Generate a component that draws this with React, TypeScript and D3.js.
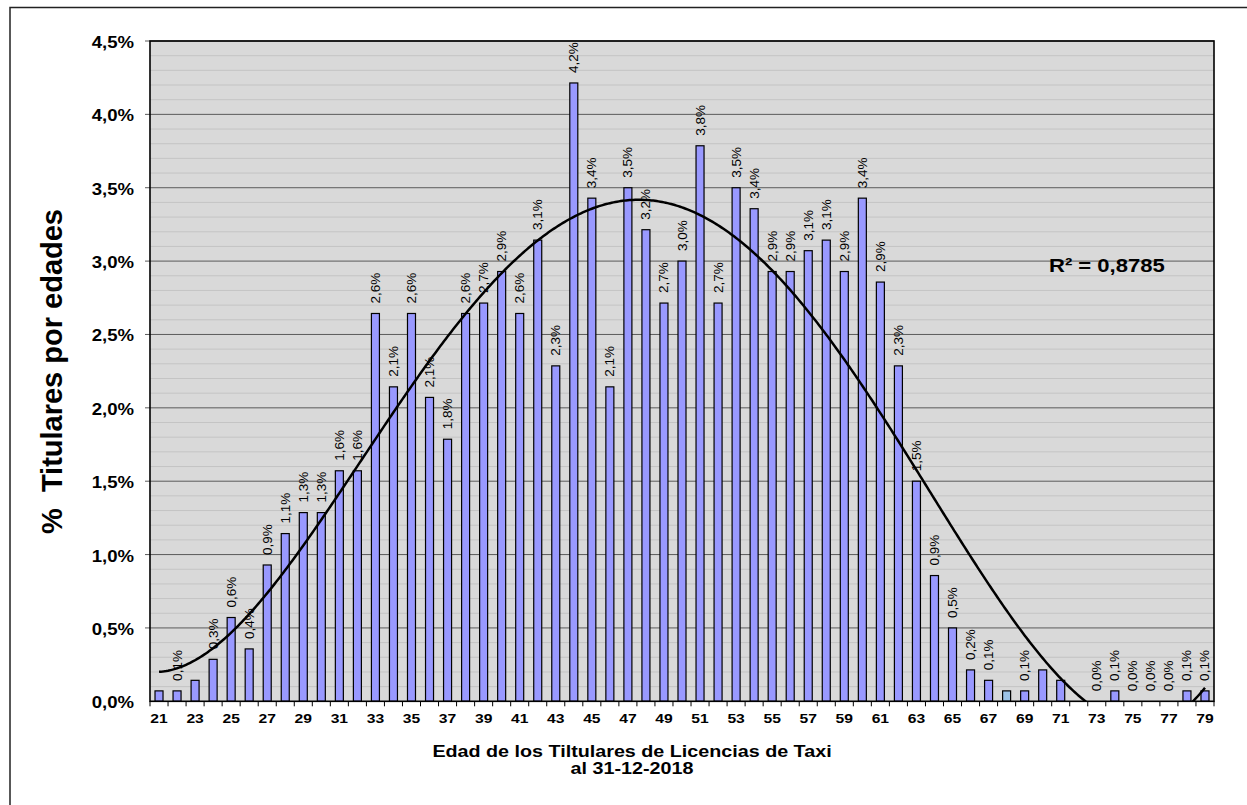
import { useEffect, useRef } from "react";
import * as d3 from "d3";

// Edad de los titulares (21..79) y % de titulares por edad
const ages = d3.range(21, 80);
const pct = [
  0.071, 0.071, 0.143, 0.286, 0.571, 0.357, 0.929, 1.143, 1.286, 1.286,
  1.571, 1.571, 2.643, 2.143, 2.643, 2.071, 1.786, 2.643, 2.714, 2.929,
  2.643, 3.143, 2.286, 4.214, 3.429, 2.143, 3.5, 3.214, 2.714, 3.0,
  3.786, 2.714, 3.5, 3.357, 2.929, 2.929, 3.071, 3.143, 2.929, 3.429,
  2.857, 2.286, 1.5, 0.857, 0.5, 0.214, 0.143, 0.071, 0.071, 0.214,
  0.143, 0, 0, 0.071, 0, 0, 0, 0.071, 0.071,
];
// bars without a data label in the original
const unlabeled = [21, 23, 68, 70, 71, 72];
// one bar drawn in a lighter tint
const tinted = [68];
const yTicks = d3.range(0, 4.51, 0.5);
const xTickAges = ages.filter((a) => a % 2 === 1);
const r2Label = "R² = 0,8785";
const yTitle = "%  Titulares por edades";
const xTitle = ["Edad de los Tiltulares de Licencias de Taxi", "al 31-12-2018"];

const FONT = "'Liberation Sans', Arial, Helvetica, sans-serif";
const STRETCH = 1.16;

// least squares polynomial (Excel-style trendline)
function polyFit(xs: number[], ys: number[], deg: number) {
  const n = deg + 1;
  const A = Array.from({ length: n }, () => new Array(n + 1).fill(0));
  xs.forEach((x, i) => {
    for (let j = 0; j < n; j++) {
      for (let k = 0; k < n; k++) A[j][k] += Math.pow(x, j + k);
      A[j][n] += Math.pow(x, j) * ys[i];
    }
  });
  for (let c = 0; c < n; c++) {
    let p = c;
    for (let r = c + 1; r < n; r++) if (Math.abs(A[r][c]) > Math.abs(A[p][c])) p = r;
    [A[c], A[p]] = [A[p], A[c]];
    for (let r = 0; r < n; r++) {
      if (r === c) continue;
      const f = A[r][c] / A[c][c];
      for (let k = c; k <= n; k++) A[r][k] -= f * A[c][k];
    }
  }
  return A.map((row, i) => row[n] / A[i][i]);
}

export default function App() {
  const ref = useRef<SVGSVGElement>(null);
  const width = 1247;
  const height = 805;

  useEffect(() => {
    if (!ref.current) return;
    const svg = d3.select(ref.current);
    svg.selectAll("*").remove();

    const left = 150, right = 1214, top = 41, bottom = 701.3;

    const x = d3
      .scaleBand<number>()
      .domain(ages)
      .range([left, right])
      .paddingInner(0.556)
      .paddingOuter(0.278);
    const y = d3.scaleLinear().domain([0, 4.5]).range([bottom, top]);
    const step = x.step();
    const cx = (a: number) => x(a)! + x.bandwidth() / 2;

    const hText = (tx: number, ty: number, txt: string, size: number, anchor: string) =>
      svg
        .append("text")
        .attr("transform", `translate(${tx},${ty}) scale(${STRETCH},1)`)
        .attr("text-anchor", anchor)
        .attr("font-family", FONT)
        .attr("font-weight", "bold")
        .attr("font-size", size)
        .attr("fill", "#000")
        .text(txt);

    // outer frame
    svg
      .append("rect")
      .attr("x", 10)
      .attr("y", 7.5)
      .attr("width", 1400)
      .attr("height", 1000)
      .attr("fill", "none")
      .attr("stroke", "#222")
      .attr("stroke-width", 1.5);

    // plot area
    svg
      .append("rect")
      .attr("x", left)
      .attr("y", top)
      .attr("width", right - left)
      .attr("height", bottom - top)
      .attr("fill", "#D9D9D9");

    // minor gridlines every 0,1%
    const minor = d3.range(0, 45).map((d) => d / 10).filter((v) => Math.round(v * 10) % 5 !== 0);
    svg
      .append("g")
      .selectAll("line")
      .data(minor)
      .join("line")
      .attr("x1", left)
      .attr("x2", right)
      .attr("y1", (d) => y(d))
      .attr("y2", (d) => y(d))
      .attr("stroke", "#C4C4C4")
      .attr("stroke-width", 1);

    // major gridlines
    svg
      .append("g")
      .selectAll("line")
      .data(yTicks.slice(1))
      .join("line")
      .attr("x1", left - 5)
      .attr("x2", right)
      .attr("y1", (d) => y(d))
      .attr("y2", (d) => y(d))
      .attr("stroke", "#5A5A5A")
      .attr("stroke-width", 1);

    // y tick labels
    yTicks.forEach((t) => {
      hText(134, y(t) + 7, t.toFixed(1).replace(".", ",") + "%", 16, "end");
    });

    // bars
    svg
      .append("g")
      .selectAll("rect")
      .data(ages.map((a, i) => ({ a, v: pct[i] })).filter((d) => d.v > 0))
      .join("rect")
      .attr("x", (d) => x(d.a)!)
      .attr("y", (d) => y(d.v))
      .attr("width", x.bandwidth())
      .attr("height", (d) => y(0) - y(d.v))
      .attr("fill", (d) => (tinted.includes(d.a) ? "#9DC3E6" : "#9999FF"))
      .attr("stroke", "#000")
      .attr("stroke-width", 1.2);

    // trendline: 4th order polynomial, clipped to plot area
    const coef = polyFit(ages.map((a) => (a - 50) / 29), pct, 4);
    const f = (a: number) => coef.reduce((s, c, k) => s + c * Math.pow((a - 50) / 29, k), 0);

    svg
      .append("clipPath")
      .attr("id", "plotclip")
      .append("rect")
      .attr("x", left)
      .attr("y", top)
      .attr("width", right - left)
      .attr("height", bottom - top);

    const xc = d3.scaleLinear().domain([21, 79]).range([cx(21), cx(79)]);
    const line = d3
      .line<number>()
      .x((a) => xc(a))
      .y((a) => y(f(a)));
    svg
      .append("path")
      .attr("clip-path", "url(#plotclip)")
      .attr("d", line(d3.range(21, 79.001, 0.1)))
      .attr("fill", "none")
      .attr("stroke", "#000")
      .attr("stroke-width", 2.5);

    // plot border and axes
    svg
      .append("rect")
      .attr("x", left)
      .attr("y", top)
      .attr("width", right - left)
      .attr("height", bottom - top)
      .attr("fill", "none")
      .attr("stroke", "#000")
      .attr("stroke-width", 1.6);

    // x ticks at category boundaries
    svg
      .append("g")
      .selectAll("line")
      .data(d3.range(0, ages.length + 1))
      .join("line")
      .attr("x1", (i) => left + i * step)
      .attr("x2", (i) => left + i * step)
      .attr("y1", bottom)
      .attr("y2", bottom + 5)
      .attr("stroke", "#000")
      .attr("stroke-width", 1);

    xTickAges.forEach((a) => hText(cx(a), 723, String(a), 13.5, "middle"));

    // data labels
    svg
      .append("g")
      .selectAll("text")
      .data(ages.map((a, i) => ({ a, v: pct[i] })).filter((d) => !unlabeled.includes(d.a)))
      .join("text")
      .attr("transform", (d) => `translate(${cx(d.a) + 4.5},${y(d.v) - 10}) rotate(-90)`)
      .attr("font-family", FONT)
      .attr("font-size", 13.5)
      .attr("fill", "#000")
      .text((d) => d.v.toFixed(1).replace(".", ",") + "%");

    // R² label
    hText(1049, 272, r2Label, 19, "start");

    // axis titles
    svg
      .append("text")
      .attr("transform", `translate(62,371.5) rotate(-90)`)
      .attr("text-anchor", "middle")
      .attr("font-family", FONT)
      .attr("font-weight", "bold")
      .attr("font-size", 29)
      .style("white-space", "pre")
      .text(yTitle);

    hText(632, 756.5, xTitle[0], 17, "middle");
    hText(632, 773.5, xTitle[1], 17, "middle");
  }, []);

  return (
    <svg
      ref={ref}
      width={width}
      height={height}
      style={{ position: "fixed", left: 0, top: 0, background: "#fff" }}
    />
  );
}
